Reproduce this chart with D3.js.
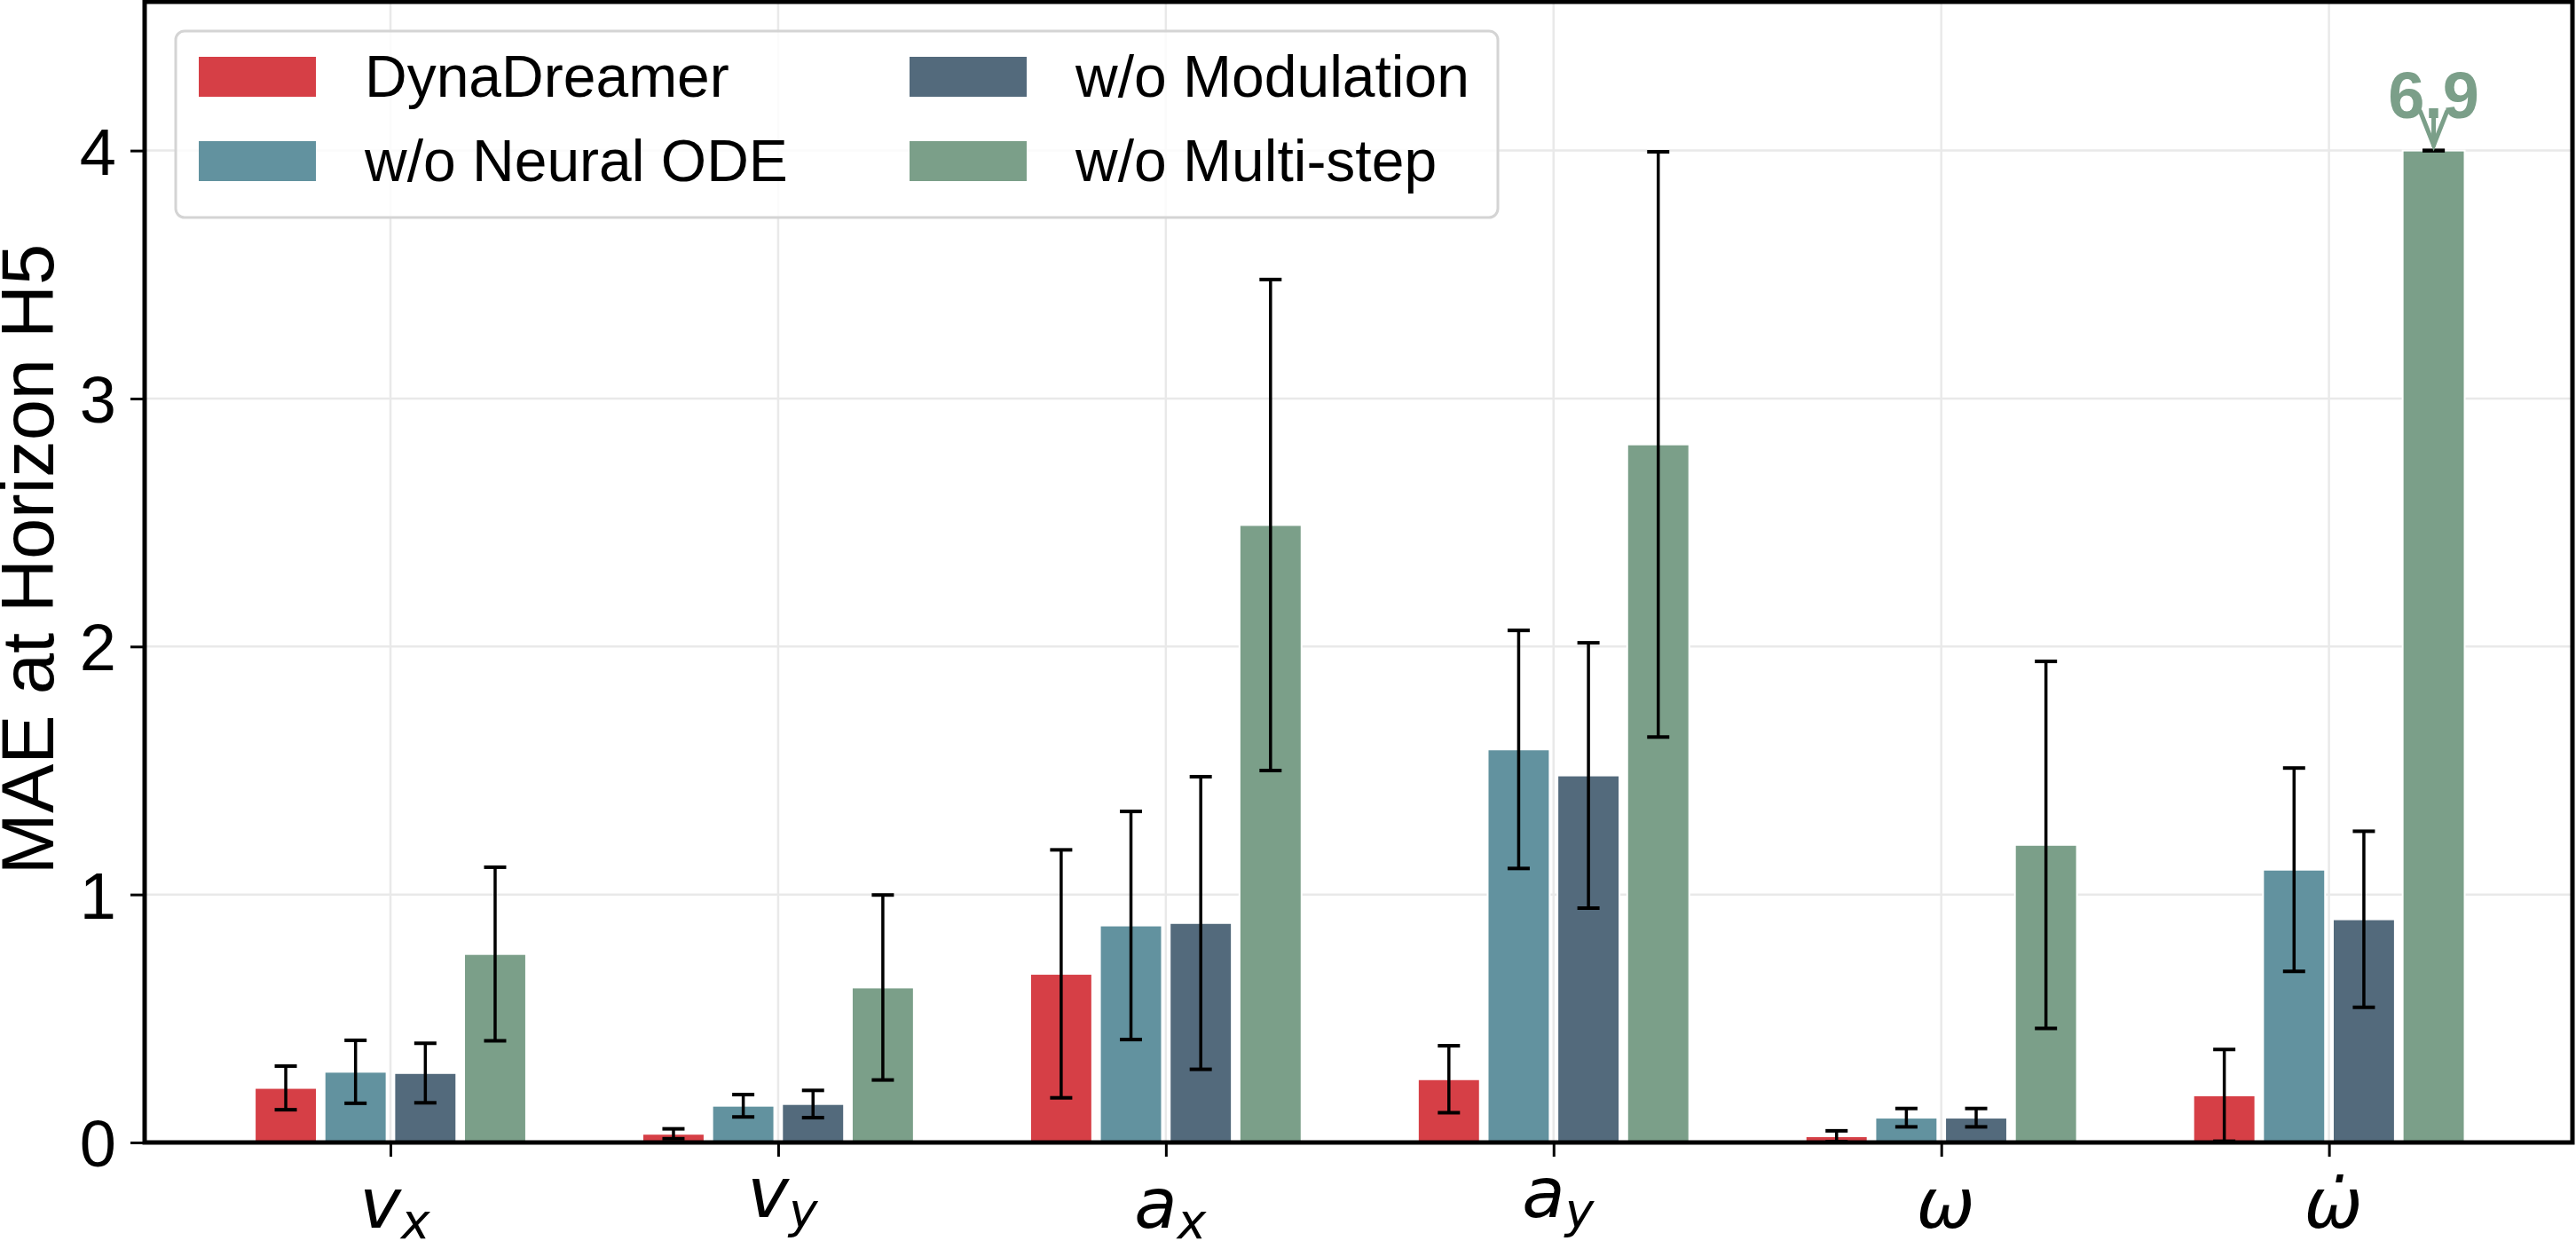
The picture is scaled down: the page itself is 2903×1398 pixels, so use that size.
<!DOCTYPE html>
<html><head><meta charset="utf-8">
<script src="https://cdn.jsdelivr.net/npm/d3@7"></script>
<style>body{margin:0;background:#fff;} svg{display:block}</style>
</head><body><svg id="c" width="2903" height="1398"></svg>
<script>
// ---- data ----
const categories = ["v_x", "v_y", "a_x", "a_y", "omega", "omega_dot"];
const catBase = ["v", "v", "a", "a", "\u03c9", "\u03c9\u0307"];
const catSub = ["x", "y", "x", "y", "", ""];
const seriesNames = ["DynaDreamer", "w/o Neural ODE", "w/o Modulation", "w/o Multi-step"];
const seriesColors = ["#d63f46", "#62929f", "#536a7c", "#7b9f89"];
const dynaMean = [0.22, 0.035, 0.68, 0.255, 0.025, 0.19];
const dynaErr  = [0.088, 0.02, 0.5, 0.135, 0.022, 0.185];
const nodeMean = [0.285, 0.148, 0.875, 1.585, 0.1, 1.1];
const nodeErr  = [0.127, 0.045, 0.46, 0.48, 0.037, 0.41];
const modMean  = [0.28, 0.155, 0.885, 1.48, 0.1, 0.9];
const modErr   = [0.12, 0.055, 0.59, 0.535, 0.037, 0.355];
const msMean   = [0.76, 0.625, 2.49, 2.815, 1.2, 6.9];
const msErr    = [0.35, 0.373, 0.99, 1.18, 0.74, 0];
const yTicks = [0, 1, 2, 3, 4];
const yLimit = 4.6;
const clipValue = 4.0;
const annotationText = "6.9";

const means = [dynaMean, nodeMean, modMean, msMean];
const errs = [dynaErr, nodeErr, modErr, msErr];

// ---- layout ----
const L = 163, R = 2899, T = 2, B = 1287;
const svg = d3.select("#c");
const x = d3.scaleLinear().domain([-0.634, 5.628]).range([L, R]);
const y = d3.scaleLinear().domain([0, yLimit]).range([B, T]);
const offsets = [-0.27, -0.09, 0.09, 0.27];
const barW = 0.16;
const font = "'Liberation Sans', Arial, sans-serif";

// grid
const grid = svg.append("g");
grid.selectAll("line.gy").data(yTicks).join("line")
  .attr("x1", L).attr("x2", R).attr("y1", d => y(d)).attr("y2", d => y(d))
  .attr("stroke", "#e9e9e9").attr("stroke-width", 2.5);
grid.selectAll("line.gx").data(categories.map((c, i) => i)).join("line")
  .attr("x1", d => x(d)).attr("x2", d => x(d)).attr("y1", T).attr("y2", B)
  .attr("stroke", "#e9e9e9").attr("stroke-width", 2.5);

// bars
const bars = svg.append("g");
means.forEach((arr, s) => {
  arr.forEach((v, i) => {
    const vv = Math.min(v, clipValue);
    const cx = x(i + offsets[s]);
    const w = x(barW) - x(0);
    bars.append("rect")
      .attr("x", cx - w / 2).attr("width", w)
      .attr("y", y(vv)).attr("height", y(0) - y(vv))
      .attr("fill", seriesColors[s]).attr("stroke", "#fff").attr("stroke-width", 2);
  });
});

// error bars
const eb = svg.append("g");
means.forEach((arr, s) => {
  arr.forEach((v, i) => {
    const cx = x(i + offsets[s]);
    const lo = Math.min(Math.max(v - errs[s][i], 0), clipValue);
    const hi = Math.min(v + errs[s][i], clipValue);
    eb.append("line").attr("x1", cx).attr("x2", cx).attr("y1", y(lo)).attr("y2", y(hi))
      .attr("stroke", "#000").attr("stroke-width", 3.5);
    [lo, hi].forEach(e => {
      eb.append("line").attr("x1", cx - 12.5).attr("x2", cx + 12.5).attr("y1", y(e)).attr("y2", y(e))
        .attr("stroke", "#000").attr("stroke-width", 4);
    });
  });
});

// annotation for clipped bar
msMean.forEach((v, i) => {
  if (v > clipValue) {
    const cx = x(i + offsets[3]);
    const tipY = y(clipValue) - 6;
    const g = svg.append("g").attr("stroke", seriesColors[3]).attr("stroke-width", 5)
      .attr("stroke-linecap", "round").attr("fill", "none");
    g.append("line").attr("x1", cx).attr("x2", cx).attr("y1", tipY).attr("y2", tipY - 30);
    g.append("polyline").attr("points", `${cx - 15},${tipY - 38} ${cx},${tipY} ${cx + 15},${tipY - 38}`);
    svg.append("text").attr("x", cx).attr("y", tipY - 31)
      .attr("text-anchor", "middle").attr("font-family", font).attr("font-weight", "bold")
      .attr("font-size", 74).attr("fill", seriesColors[3]).text(annotationText);
  }
});

// spines
svg.append("rect").attr("x", L).attr("y", T).attr("width", R - L).attr("height", B - T)
  .attr("fill", "none").attr("stroke", "#000").attr("stroke-width", 5);

// y axis
const yAxis = d3.axisLeft(y).tickValues(yTicks).tickSize(14).tickPadding(16).tickFormat(d3.format("d"));
const ya = svg.append("g").attr("transform", `translate(${L - 2},0)`).call(yAxis);
ya.select(".domain").remove();
ya.selectAll(".tick line").attr("stroke", "#000").attr("stroke-width", 3);
ya.selectAll(".tick text").attr("font-family", font).attr("font-size", 74).attr("fill", "#000")
  .attr("dy", "0.36em");

// x axis ticks
const xAxis = d3.axisBottom(x).tickValues(categories.map((c, i) => i)).tickSize(14).tickFormat("");
const xa = svg.append("g").attr("transform", `translate(0,${B + 2})`).call(xAxis);
xa.select(".domain").remove();
xa.selectAll(".tick line").attr("stroke", "#000").attr("stroke-width", 3);

// x labels (math style)
const mathFont = "'DejaVu Sans', sans-serif";
categories.forEach((c, i) => {
  const hasDesc = catSub[i] === "y";
  const t = svg.append("text").attr("x", x(i) + 5).attr("y", hasDesc ? 1371 : 1383)
    .attr("text-anchor", "middle").attr("font-family", mathFont)
    .attr("font-style", "italic").attr("font-size", 79).attr("fill", "#000");
  t.append("tspan").text(catBase[i]);
  if (catSub[i]) {
    t.append("tspan").attr("font-size", 55).attr("dy", 12).text(catSub[i]);
  }
});

// y label
svg.append("text").attr("transform", `translate(60,630) rotate(-90)`)
  .attr("text-anchor", "middle").attr("font-family", font).attr("font-size", 83)
  .attr("fill", "#000").text("MAE at Horizon H5");

// legend
const lg = svg.append("g");
lg.append("rect").attr("x", 198).attr("y", 35).attr("width", 1490).attr("height", 210).attr("rx", 10)
  .attr("fill", "#fff").attr("fill-opacity", 0.8).attr("stroke", "#d4d4d4").attr("stroke-width", 3);
seriesNames.forEach((n, s) => {
  const col = Math.floor(s / 2), row = s % 2;
  const sx = 224 + col * 801, sy = 64 + row * 95;
  lg.append("rect").attr("x", sx).attr("y", sy).attr("width", 132).attr("height", 45)
    .attr("fill", seriesColors[s]);
  lg.append("text").attr("x", sx + 187).attr("y", sy + 45).attr("font-family", font)
    .attr("font-size", 66).attr("fill", "#000").text(n);
});
</script></body></html>
